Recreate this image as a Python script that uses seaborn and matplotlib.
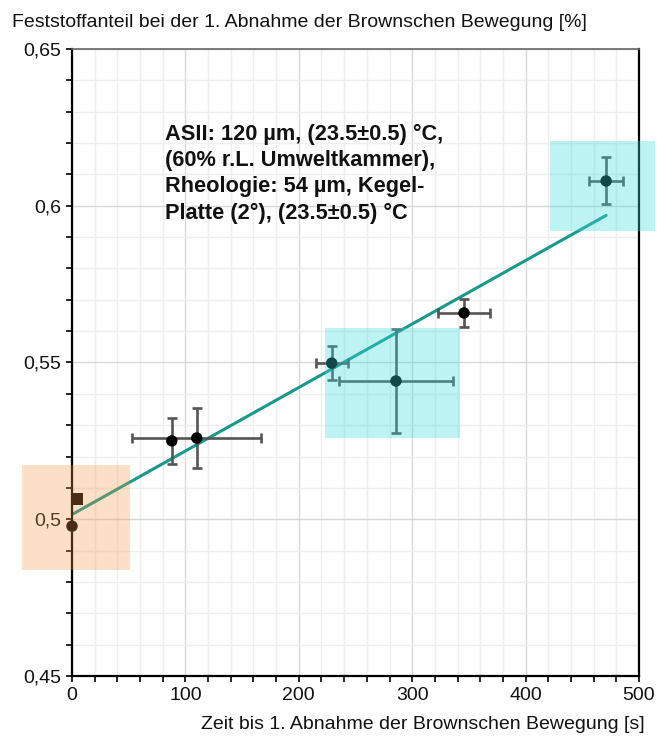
import numpy as np
import pandas as pd
import matplotlib
matplotlib.use("Agg")
import matplotlib.pyplot as plt
import matplotlib.patches as mpatches
from matplotlib.ticker import MultipleLocator, FuncFormatter
import seaborn as sns

# ---- data ----
zeit = [0, 4.4, 88, 110, 229, 285.7, 345.7, 471]
anteil = [0.4978, 0.5065, 0.525, 0.5259, 0.5498, 0.5441, 0.5658, 0.6079]
zeit_err = [0, 0, 0, 57, 14, 50, 23, 15]
anteil_err = [0, 0, 0.0073, 0.0097, 0.0054, 0.0166, 0.0046, 0.0075]
marker_kind = ["o", "s", "o", "o", "o", "o", "o", "o"]

# highlighted regions: (x0, x1, y0, y1)
box_orange = (-44, 51, 0.4838, 0.5173)
box_cyan1 = (223, 342, 0.5259, 0.5610)
box_cyan2 = (421.5, 514, 0.5919, 0.6207)

annot = ("ASII: 120 \u00b5m, (23.5\u00b10.5) \u00b0C,\n"
         "(60% r.L. Umweltkammer),\n"
         "Rheologie: 54 \u00b5m, Kegel-\n"
         "Platte (2\u00b0), (23.5\u00b10.5) \u00b0C")
ylabel = "Feststoffanteil bei der 1. Abnahme der Brownschen Bewegung [%]"
xlabel = "Zeit bis 1. Abnahme der Brownschen Bewegung [s]"

df = pd.DataFrame({"zeit": zeit, "anteil": anteil, "xe": zeit_err,
                   "ye": anteil_err, "m": marker_kind})

sns.set_theme(style="white")
plt.rcParams["font.family"] = ["Liberation Sans", "DejaVu Sans"]

fig = plt.figure(figsize=(6.57, 7.41), dpi=100)
ax = fig.add_axes([72/657, 1-676/741, (639-72)/657, (676-49)/741])

ax.set_xlim(0, 500)
ax.set_ylim(0.45, 0.65)

# grid
ax.xaxis.set_major_locator(MultipleLocator(100))
ax.xaxis.set_minor_locator(MultipleLocator(20))
ax.yaxis.set_major_locator(MultipleLocator(0.05))
ax.yaxis.set_minor_locator(MultipleLocator(0.01))
ax.grid(which="minor", color="#eeeeee", lw=1.0, zorder=0)
ax.grid(which="major", color="#d8d8d8", lw=1.0, zorder=0)
ax.set_axisbelow(True)

# regression line
sns.regplot(data=df, x="zeit", y="anteil", scatter=False, ci=None,
            truncate=True, ax=ax,
            line_kws=dict(color="#17998c", lw=2.2, zorder=2))

# error bars
sub = df[(df.xe > 0) | (df.ye > 0)]
ax.errorbar(sub.zeit, sub.anteil, xerr=sub.xe.where(sub.xe > 0, np.nan),
            yerr=sub.ye, fmt="none", ecolor="#555555", elinewidth=1.9,
            capsize=3.8, capthick=1.9, zorder=3)

# points
sns.scatterplot(data=df, x="zeit", y="anteil", style="m",
                markers={"o": "o", "s": "s"}, color="black", s=68,
                edgecolor="none", legend=False, ax=ax, zorder=4, clip_on=False)

# highlight boxes
for (x0, x1, y0, y1), col, a in [(box_orange, "#f59646", 0.30),
                                 (box_cyan1, "#3cdcdc", 0.33),
                                 (box_cyan2, "#3cdcdc", 0.33)]:
    ax.add_patch(mpatches.Rectangle((x0, y0), x1 - x0, y1 - y0,
                                    facecolor=col, alpha=a, edgecolor="none",
                                    zorder=5, clip_on=False))

ax.text(82, 0.6262, annot, fontsize=15.7, fontweight="bold", va="top",
        ha="left", linespacing=1.33, color="#111111", zorder=6)

# spines
for s in ["left", "bottom", "right"]:
    ax.spines[s].set_color("black")
    ax.spines[s].set_linewidth(1.6)
ax.spines["top"].set_color("#666666")
ax.spines["top"].set_linewidth(1.2)

fmt = FuncFormatter(lambda v, p: ("%g" % round(v, 4)).replace(".", ","))
ax.yaxis.set_major_formatter(fmt)
ax.tick_params(which="both", direction="out", color="black", width=1.2,
               labelsize=14, labelcolor="#111111")
ax.tick_params(which="major", length=4, pad=4)
ax.tick_params(which="minor", length=4)
ax.tick_params(axis="y", left=True, which="both")
ax.tick_params(axis="x", bottom=True, which="both")
ax.set_xlabel("")
ax.set_ylabel("")

fig.text(12/657, 1-27/741, ylabel, fontsize=14, ha="left", va="baseline",
         color="#111111")
fig.text(645/657, 1-729/741, xlabel, fontsize=14, ha="right", va="baseline",
         color="#111111")

fig.savefig("out.png", dpi=100)
